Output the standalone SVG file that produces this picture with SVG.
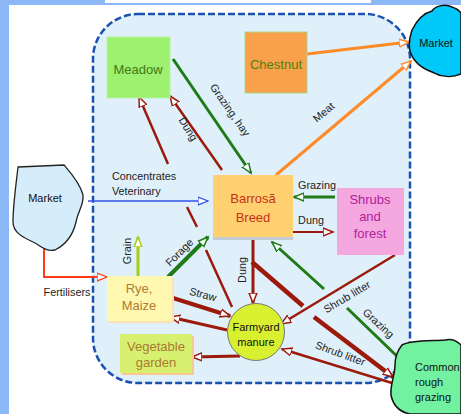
<svg xmlns="http://www.w3.org/2000/svg" width="461" height="414" viewBox="0 0 461 414">
<style>
text{font-family:"Liberation Sans",Arial,sans-serif;}
.lbl{font-size:10.8px;fill:#222;}
.node{font-size:13px;text-anchor:middle;}
.c{fill:none;stroke-linecap:butt;}
.dr{stroke:#9c1a0c;}
.gr{stroke:#1f7a18;}
.or{stroke:#ff8a28;}
</style>
<defs>
<marker id="aDr" markerUnits="userSpaceOnUse" markerWidth="14" markerHeight="12" refX="10" refY="5" orient="auto"><path d="M0,1 L10,5 L0,9 Z" fill="#fff" stroke="#9c1a0c" stroke-width="1.5"/></marker>
<marker id="aGr" markerUnits="userSpaceOnUse" markerWidth="14" markerHeight="12" refX="10" refY="5" orient="auto"><path d="M0,1 L10,5 L0,9 Z" fill="#fff" stroke="#1f7a18" stroke-width="1.5"/></marker>
<marker id="aOr" markerUnits="userSpaceOnUse" markerWidth="14" markerHeight="12" refX="10" refY="5" orient="auto"><path d="M0,1 L10,5 L0,9 Z" fill="#fff" stroke="#ff8a28" stroke-width="1.5"/></marker>
<marker id="aBl" markerUnits="userSpaceOnUse" markerWidth="14" markerHeight="12" refX="10" refY="5" orient="auto"><path d="M0,1 L10,5 L0,9 Z" fill="#fff" stroke="#2f52e8" stroke-width="1.2"/></marker>
<marker id="aRd" markerUnits="userSpaceOnUse" markerWidth="14" markerHeight="12" refX="10" refY="5" orient="auto"><path d="M0,1 L10,5 L0,9 Z" fill="#fff" stroke="#ff3a1a" stroke-width="1.3"/></marker>
<marker id="aLg" markerUnits="userSpaceOnUse" markerWidth="14" markerHeight="12" refX="10" refY="5" orient="auto"><path d="M0,1 L10,5 L0,9 Z" fill="#fff" stroke="#a8cc10" stroke-width="1.5"/></marker>
</defs>
<rect x="0" y="0" width="461" height="414" fill="#8cb8f8"/>
<rect x="105" y="0" width="266" height="3" fill="#fff"/>
<rect x="9" y="5" width="452" height="409" fill="#fff"/>
<rect id="farm" x="93" y="14" width="317" height="369" rx="45" ry="45" fill="#dff0fa" stroke="#1a50b0" stroke-width="2.5" stroke-dasharray="7 3"/>

<g id="connectors">
<path class="c gr" stroke-width="3" d="M173,59 L251,173" marker-end="url(#aGr)"/>
<path class="c dr" stroke-width="2.5" d="M222,170 L170,96" marker-end="url(#aDr)"/>
<path class="c dr" stroke-width="2.5" d="M232,307 L206,250 M197,227 L187,207 M168,164 L139,97" marker-end="url(#aDr)"/>
<path class="c" stroke="#2f52e8" stroke-width="1.5" d="M88,201 L208,201" marker-end="url(#aBl)"/>
<path class="c or" stroke-width="3" d="M307,54 L409,42" marker-end="url(#aOr)"/>
<path class="c or" stroke-width="3" d="M276,175 L411,61" marker-end="url(#aOr)"/>
<path class="c gr" stroke-width="3" d="M335,197 L294,197" marker-end="url(#aGr)"/>
<path class="c dr" stroke-width="2" d="M293,232 L333,232" marker-end="url(#aDr)"/>
<path class="c" stroke="#a8cc10" stroke-width="3" d="M138,276 L138,237" marker-end="url(#aLg)"/>
<path class="c gr" stroke-width="4" d="M168,277 L208,237" marker-end="url(#aGr)"/>
<path class="c" stroke="#ff3a1a" stroke-width="2" d="M44,248 L44,277 L107,277" marker-end="url(#aRd)"/>
<path class="c dr" stroke-width="4" d="M173,298 L230,316" marker-end="url(#aDr)"/>
<path class="c dr" stroke-width="3" d="M227,330 L170,317" marker-end="url(#aDr)"/>
<path class="c dr" stroke-width="3" d="M240,356 L192,357" marker-end="url(#aDr)"/>
<path class="c dr" stroke-width="3" d="M253,238 L253,303" marker-end="url(#aDr)"/>
<path class="c dr" stroke-width="4.5" d="M252,262 L303,306 M314,317 L393,377" marker-end="url(#aDr)"/>
<path class="c gr" stroke-width="3" d="M403,362 L347,308 M324,289 L272,242" marker-end="url(#aGr)"/>
<path class="c dr" stroke-width="2.5" d="M395,255 L281,324" marker-end="url(#aDr)"/>
<path class="c dr" stroke-width="2.5" d="M392,383 L282,349" marker-end="url(#aDr)"/>
</g>

<g id="labels">
<text class="lbl" transform="translate(227,112) rotate(55)" text-anchor="middle">Grazing, hay</text>
<text class="lbl" transform="translate(185,131) rotate(58)" text-anchor="middle">Dung</text>
<text class="lbl" transform="translate(326,115) rotate(-40)" text-anchor="middle">Meat</text>
<text class="lbl" x="112" y="180">Concentrates</text>
<text class="lbl" x="112" y="195">Veterinary</text>
<text class="lbl" x="317" y="189" text-anchor="middle">Grazing</text>
<text class="lbl" x="311" y="224" text-anchor="middle">Dung</text>
<text class="lbl" transform="translate(131,251) rotate(-90)" text-anchor="middle">Grain</text>
<text class="lbl" transform="translate(182,255) rotate(-45)" text-anchor="middle">Forage</text>
<text class="lbl" x="67" y="296" text-anchor="middle">Fertilisers</text>
<text class="lbl" transform="translate(202,298) rotate(15)" text-anchor="middle">Straw</text>
<text class="lbl" transform="translate(246,270) rotate(-90)" text-anchor="middle">Dung</text>
<text class="lbl" transform="translate(349,300) rotate(-31)" text-anchor="middle">Shrub litter</text>
<text class="lbl" transform="translate(376,326) rotate(42)" text-anchor="middle">Grazing</text>
<text class="lbl" transform="translate(339,357) rotate(20)" text-anchor="middle">Shrub litter</text>
</g>

<g id="meadow">
<rect x="107" y="37" width="63" height="61" fill="#9ef070" stroke="#b8f0a0" stroke-width="1"/>
<text class="node" x="138" y="74" fill="#3f7a10">Meadow</text>
</g>
<g id="chestnut">
<rect x="245" y="32" width="62" height="61" fill="#f9a04a" stroke="#a8d890" stroke-width="1"/>
<text class="node" x="276" y="69" fill="#4a8010">Chestnut</text>
</g>
<g id="market-right">
<path d="M412,30 C418,18 424,13 432,11 C436,5 446,4 452,7 C458,9 461,13 461,13 L461,74 C452,78 441,77 432,72 C421,68 413,61 410,51 C408,43 410,36 412,30 Z" fill="#00c8f8" stroke="#111" stroke-width="1.5"/>
<text x="436" y="47" font-size="11" text-anchor="middle" fill="#111">Market</text>
</g>
<g id="barrosa">
<rect x="213" y="237" width="80" height="3" fill="#c4ccd6"/>
<rect x="213" y="175" width="80" height="62" fill="#ffd070"/>
<text class="node" x="253" y="203" font-size="15" fill="#c8301a">Barrosã</text>
<text class="node" x="253" y="222" font-size="15" fill="#c8301a">Breed</text>
</g>
<g id="shrubs">
<rect x="337" y="188" width="67" height="67" fill="#f5a8e0"/>
<text class="node" x="370" y="204" fill="#b0209a">Shrubs</text>
<text class="node" x="370" y="221" fill="#b0209a">and</text>
<text class="node" x="370" y="238" fill="#b0209a">forest</text>
</g>
<g id="market-left">
<path d="M18,167 L64,165 C70,172 80,183 83,195 C84,205 78,211 76,222 C73,235 65,245 55,250 C45,252 40,245 33,242 C22,237 13,232 13,222 C13,205 16,185 18,167 Z" fill="#d5ecfa" stroke="#222" stroke-width="1.3"/>
<text x="45" y="202" font-size="11" text-anchor="middle" fill="#111">Market</text>
</g>
<g id="rye">
<rect x="109" y="278" width="65" height="45" fill="#ffe0b0"/>
<rect x="107" y="276" width="65" height="45" fill="#fff8b0"/>
<text class="node" x="139" y="293" fill="#b07a30">Rye,</text>
<text class="node" x="139" y="310" fill="#b07a30">Maize</text>
</g>
<g id="vegetable">
<rect x="122" y="336" width="72" height="39" fill="#f8c890"/>
<rect x="120" y="334" width="72" height="39" fill="#d8f070"/>
<text class="node" x="156" y="351" fill="#a87a30">Vegetable</text>
<text class="node" x="156" y="367" fill="#a87a30">garden</text>
</g>
<g id="manure">
<circle cx="256" cy="332" r="28.5" fill="#d8f030" stroke="#777" stroke-width="1"/>
<text x="256" y="331" font-size="11" text-anchor="middle" fill="#111">Farmyard</text>
<text x="256" y="346" font-size="11" text-anchor="middle" fill="#111">manure</text>
</g>
<g id="common">
<path d="M402,345 C410,340 430,341 445,340 C452,338 458,342 461,345 L461,414 L410,414 C400,412 393,405 391,395 C390,385 395,375 395,365 C395,355 398,350 402,345 Z" fill="#72f2a0" stroke="#111" stroke-width="1.5"/>
<text x="415" y="371" font-size="11" fill="#111">Common</text>
<text x="415" y="386" font-size="11" fill="#111">rough</text>
<text x="415" y="401" font-size="11" fill="#111">grazing</text>
</g>
</svg>
